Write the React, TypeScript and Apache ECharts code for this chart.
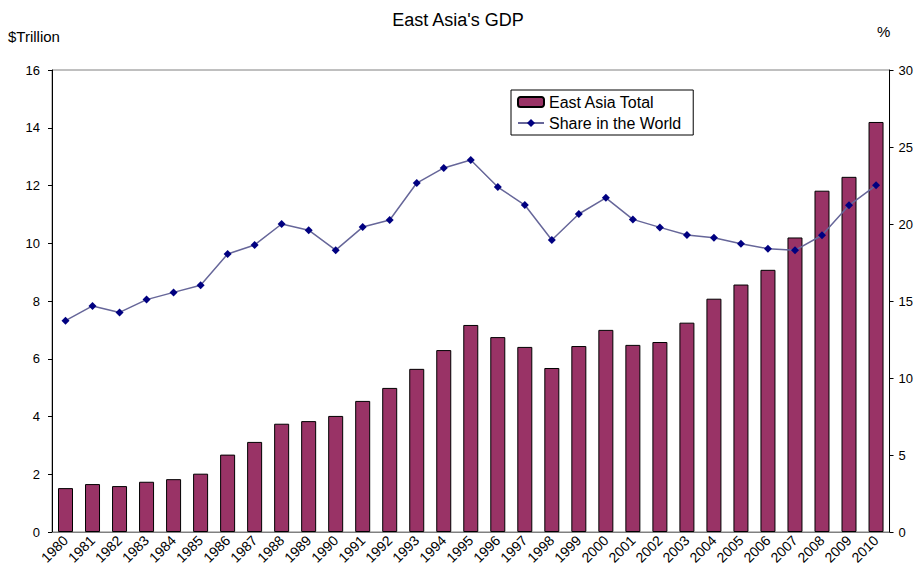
import React, { useEffect, useRef } from "react";
import * as echarts from "echarts";

const years = [
  "1980", "1981", "1982", "1983", "1984", "1985", "1986", "1987", "1988", "1989",
  "1990", "1991", "1992", "1993", "1994", "1995", "1996", "1997", "1998", "1999",
  "2000", "2001", "2002", "2003", "2004", "2005", "2006", "2007", "2008", "2009", "2010",
];
const eastAsiaTotal = [
  1.52, 1.66, 1.59, 1.74, 1.83, 2.02, 2.68, 3.12, 3.75, 3.84,
  4.02, 4.54, 4.99, 5.65, 6.3, 7.17, 6.75, 6.41, 5.68, 6.44,
  7.0, 6.48, 6.58, 7.25, 8.08, 8.57, 9.08, 10.2, 11.82, 12.3, 14.2,
];
const shareInWorld = [
  13.72, 14.68, 14.26, 15.09, 15.56, 16.02, 18.05, 18.64, 20.0, 19.6,
  18.3, 19.8, 20.26, 22.66, 23.64, 24.16, 22.4, 21.23, 18.96, 20.65,
  21.7, 20.3, 19.78, 19.29, 19.11, 18.72, 18.4, 18.29, 19.27, 21.21, 22.51,
];

const FONT = "'Liberation Sans Narrow', 'Liberation Sans', sans-serif";

export default function App() {
  const ref = useRef<HTMLDivElement>(null);
  useEffect(() => {
    if (!ref.current) return;
    const chart = echarts.init(ref.current, null, { renderer: "svg" });
    chart.setOption({
      animation: false,
      backgroundColor: "#ffffff",
      textStyle: { fontFamily: FONT, color: "#000" },
      title: {
        text: "East Asia's GDP",
        left: "center",
        top: 6,
        textStyle: { fontFamily: FONT, fontSize: 18, fontWeight: "normal", color: "#000" },
      },
      graphic: [
        { type: "text", left: 8, top: 29, style: { text: "$Trillion", font: `15px ${FONT}`, fill: "#000" } },
        { type: "text", left: 877, top: 24, style: { text: "%", font: `15px ${FONT}`, fill: "#000" } },
      ],
      legend: {
        left: 511,
        top: 90,
        orient: "vertical",
        backgroundColor: "#fff",
        borderColor: "#000",
        borderWidth: 1,
        borderRadius: 0,
        padding: [4, 12, 4, 6],
        itemGap: 5,
        itemWidth: 26,
        itemHeight: 10,
        textStyle: { fontFamily: FONT, fontSize: 16, color: "#000" },
        data: ["East Asia Total", "Share in the World"],
      },
      grid: {
        left: 52,
        right: 26,
        top: 70,
        bottom: 48,
        show: true,
        borderColor: "#808080",
        borderWidth: 1,
      },
      xAxis: {
        type: "category",
        data: years,
        axisLine: { lineStyle: { color: "#808080" } },
        axisTick: { inside: true, length: 4, lineStyle: { color: "#808080" } },
        axisLabel: { rotate: 45, fontSize: 14, color: "#000", fontFamily: FONT, margin: 6 },
      },
      yAxis: [
        {
          type: "value",
          min: 0,
          max: 16,
          interval: 2,
          splitLine: { show: false },
          axisLine: { show: true, lineStyle: { color: "#000" } },
          axisTick: { show: true, length: 4, lineStyle: { color: "#000" } },
          axisLabel: { fontSize: 13, color: "#000", fontFamily: FONT, margin: 12 },
        },
        {
          type: "value",
          min: 0,
          max: 30,
          interval: 5,
          splitLine: { show: false },
          axisLine: { show: true, lineStyle: { color: "#000" } },
          axisTick: { show: true, length: 4, lineStyle: { color: "#000" } },
          axisLabel: { fontSize: 13, color: "#000", fontFamily: FONT, margin: 9 },
        },
      ],
      series: [
        {
          name: "East Asia Total",
          type: "bar",
          data: eastAsiaTotal,
          yAxisIndex: 0,
          barWidth: 15,
          itemStyle: { color: "#993366", borderColor: "#000", borderWidth: 1 },
        },
        {
          name: "Share in the World",
          type: "line",
          data: shareInWorld,
          yAxisIndex: 1,
          symbol: "diamond",
          symbolSize: 8,
          lineStyle: { color: "#666699", width: 1.5 },
          itemStyle: { color: "#000080" },
        },
      ],
    });
    return () => chart.dispose();
  }, []);
  return (
    <div
      ref={ref}
      style={{ position: "fixed", left: 0, top: 0, width: 916, height: 580 }}
    />
  );
}
